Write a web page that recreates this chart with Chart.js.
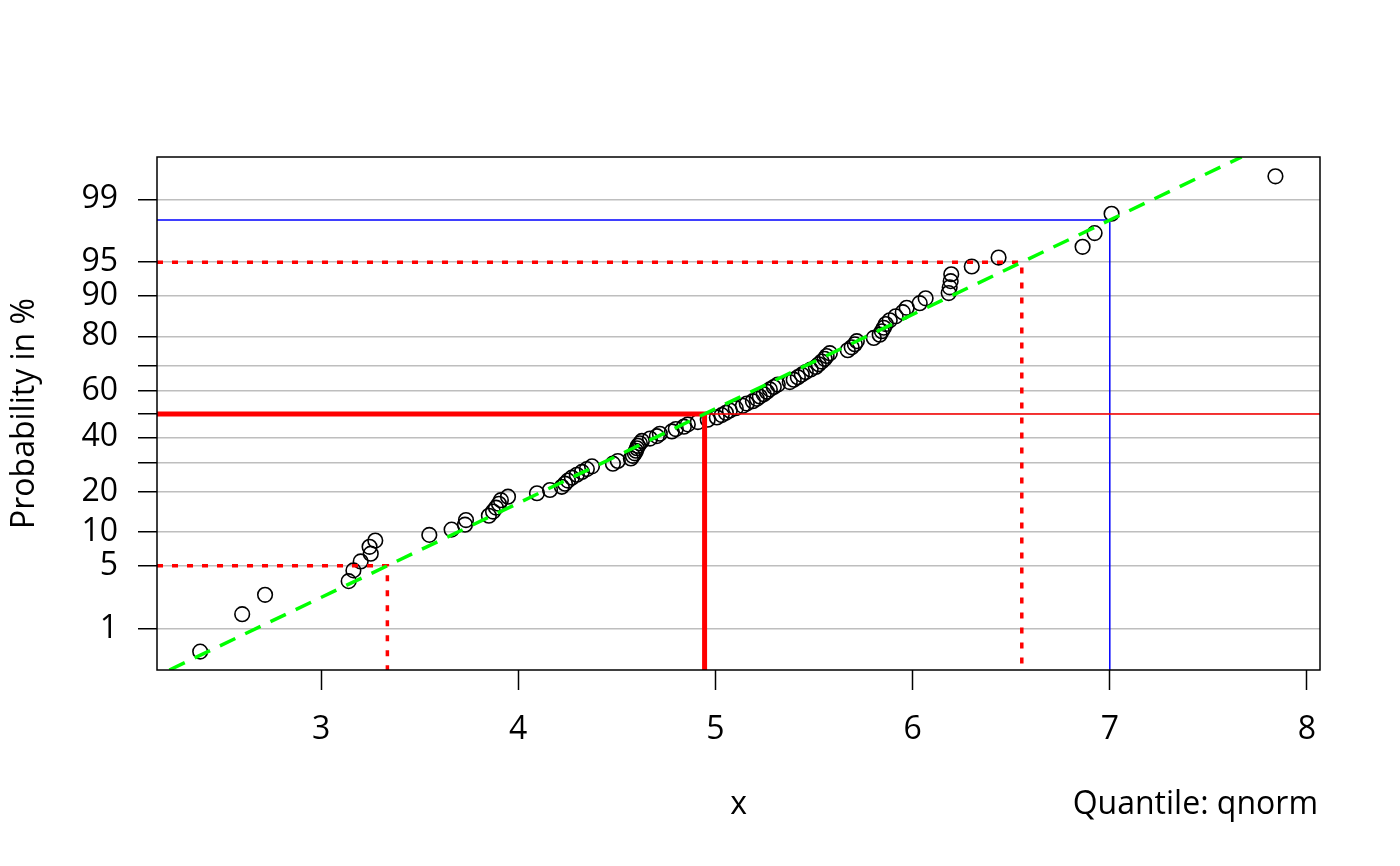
<!DOCTYPE html>
<html>
<head>
<meta charset="utf-8">
<script src="https://cdn.jsdelivr.net/npm/chart.js@4.4.1/dist/chart.umd.min.js"></script>
<style>
  body { margin: 0; background: #fff; }
  #wrap { width: 1400px; height: 866px; }
</style>
</head>
<body>
<div id="wrap"><canvas id="probChart"></canvas></div>
<script>
'use strict'

// sorted sample (100 values)
const sample = [
    2.387, 2.600, 2.716, 3.140, 3.164, 3.201, 3.252, 3.246, 3.275, 3.549,
    3.662, 3.730, 3.735, 3.851, 3.872, 3.887, 3.902, 3.912, 3.948, 4.095,
    4.161, 4.221, 4.237, 4.252, 4.272, 4.297, 4.323, 4.348, 4.374, 4.480,
    4.505, 4.571, 4.581, 4.591, 4.597, 4.602, 4.607, 4.617, 4.627, 4.668,
    4.703, 4.718, 4.779, 4.799, 4.840, 4.860, 4.911, 4.961, 5.007, 5.032,
    5.053, 5.073, 5.103, 5.139, 5.159, 5.190, 5.210, 5.225, 5.245, 5.261,
    5.276, 5.296, 5.316, 5.377, 5.397, 5.418, 5.438, 5.458, 5.483, 5.509,
    5.524, 5.539, 5.554, 5.564, 5.580, 5.671, 5.691, 5.707, 5.717, 5.803,
    5.833, 5.844, 5.854, 5.864, 5.884, 5.914, 5.950, 5.970, 6.036, 6.066,
    6.183, 6.188, 6.193, 6.196, 6.300, 6.436, 6.862, 6.923, 7.009, 7.840
];

const probTicks = [1, 5, 10, 20, 30, 40, 50, 60, 70, 80, 90, 95, 99];
const probLabels = ['1', '5', '10', '20', '', '40', '', '60', '', '80', '90', '95', '99'];
const xTicks = [3, 4, 5, 6, 7, 8];

// fitted normal (mean, sd) and the marked values
const fitMean = 4.945;
const fitSd = 0.978;
const dottedProbs = [5, 95];
const markX = 7;

const xMin = 2.168, xMax = 8.066;
const yMin = -2.775, yMax = 2.785;

// inverse normal cdf (Acklam)
function qnorm(p) {
    const a = [-3.969683028665376e+01, 2.209460984245205e+02, -2.759285104469687e+02, 1.383577518672690e+02, -3.066479806614716e+01, 2.506628277459239e+00];
    const b = [-5.447609879822406e+01, 1.615858368580409e+02, -1.556989798598866e+02, 6.680131188771972e+01, -1.328068155288572e+01];
    const c = [-7.784894002430293e-03, -3.223964580411365e-01, -2.400758277161838e+00, -2.549732539343734e+00, 4.374664141464968e+00, 2.938163982698783e+00];
    const d = [7.784695709041462e-03, 3.224671290700398e-01, 2.445134137142996e+00, 3.754408661907416e+00];
    const pl = 0.02425;
    let q, r;
    if (p < pl) {
        q = Math.sqrt(-2 * Math.log(p));
        return (((((c[0]*q+c[1])*q+c[2])*q+c[3])*q+c[4])*q+c[5]) / ((((d[0]*q+d[1])*q+d[2])*q+d[3])*q+1);
    }
    if (p <= 1 - pl) {
        q = p - 0.5; r = q * q;
        return (((((a[0]*r+a[1])*r+a[2])*r+a[3])*r+a[4])*r+a[5])*q / (((((b[0]*r+b[1])*r+b[2])*r+b[3])*r+b[4])*r+1);
    }
    q = Math.sqrt(-2 * Math.log(1 - p));
    return -(((((c[0]*q+c[1])*q+c[2])*q+c[3])*q+c[4])*q+c[5]) / ((((d[0]*q+d[1])*q+d[2])*q+d[3])*q+1);
}

// plotting positions (i - 0.5) / n on the normal scale
const n = sample.length;
const points = sample.map((v, i) => ({ x: v, y: qnorm((i + 0.5) / n) }));

const fitLine = [
    { x: fitMean + fitSd * yMin, y: yMin },
    { x: fitMean + fitSd * yMax, y: yMax }
];

const medianThick = [
    { x: xMin, y: 0 },
    { x: fitMean, y: 0 },
    { x: fitMean, y: yMin }
];
const medianThin = [
    { x: fitMean, y: 0 },
    { x: xMax, y: 0 }
];

function dottedPath(p) {
    const z = qnorm(p / 100);
    const xv = fitMean + fitSd * z;
    return [{ x: xMin, y: z }, { x: xv, y: z }, { x: xv, y: yMin }];
}

const zMark = (markX - fitMean) / fitSd;
const bluePath = [{ x: xMin, y: zMark }, { x: markX, y: zMark }, { x: markX, y: yMin }];

const FONT = "'Open Sans', 'Noto Sans', sans-serif";

const frame = {
    id: 'frame',
    afterDraw(chart) {
        const ctx = chart.ctx;
        const a = chart.chartArea;
        ctx.save();
        ctx.strokeStyle = '#000';
        ctx.lineWidth = 1.5;
        ctx.strokeRect(a.left, a.top, a.right - a.left, a.bottom - a.top);

        ctx.fillStyle = '#000';
        ctx.font = '32px ' + FONT;
        ctx.textBaseline = 'middle';
        ctx.textAlign = 'center';
        ctx.fillText('x', (a.left + a.right) / 2, 805);
        ctx.textAlign = 'right';
        ctx.fillText('Quantile: qnorm', 1318, 805);

        ctx.translate(25, (a.top + a.bottom) / 2);
        ctx.rotate(-Math.PI / 2);
        ctx.textAlign = 'center';
        ctx.fillText('Probability in %', 0, 0);
        ctx.restore();
    }
};

function lineSet(data, color, width, dash, order) {
    return {
        data: data,
        showLine: true,
        borderColor: color,
        borderWidth: width,
        borderDash: dash,
        pointRadius: 0,
        fill: false,
        order: order
    };
}

const ctx = document.getElementById('probChart').getContext('2d');

new Chart(ctx, {
    type: 'scatter',
    data: {
        datasets: [
            lineSet(fitLine, '#00ff00', 3.5, [17, 11], 1),
            lineSet(medianThick, '#ff0000', 5, [], 2),
            lineSet(medianThin, '#ff0000', 1.5, [], 3),
            lineSet(dottedPath(dottedProbs[0]), '#ff0000', 3.5, [6, 9], 4),
            lineSet(dottedPath(dottedProbs[1]), '#ff0000', 3.5, [6, 9], 5),
            lineSet(bluePath, '#0000ff', 1.5, [], 6),
            {
                data: points,
                showLine: false,
                pointStyle: 'circle',
                pointRadius: 7.3,
                pointBorderWidth: 1.6,
                pointBorderColor: '#000',
                pointBackgroundColor: 'rgba(0,0,0,0)',
                order: 10
            }
        ]
    },
    options: {
        responsive: true,
        maintainAspectRatio: false,
        animation: false,
        layout: {
            padding: { top: 157, right: 80, bottom: 0, left: 0 }
        },
        plugins: {
            legend: { display: false },
            tooltip: { enabled: false }
        },
        scales: {
            x: {
                type: 'linear',
                min: xMin,
                max: xMax,
                afterBuildTicks: (scale) => { scale.ticks = xTicks.map(v => ({ value: v })); },
                afterFit: (scale) => { scale.height = 196; },
                border: { display: false },
                grid: {
                    drawOnChartArea: false,
                    drawTicks: true,
                    tickLength: 20,
                    tickColor: '#000',
                    tickWidth: 1.5
                },
                ticks: {
                    color: '#000',
                    font: { family: FONT, size: 32 },
                    padding: 21,
                    autoSkip: false,
                    maxRotation: 0
                }
            },
            y: {
                type: 'linear',
                min: yMin,
                max: yMax,
                afterBuildTicks: (scale) => { scale.ticks = probTicks.map(p => ({ value: qnorm(p / 100) })); },
                afterFit: (scale) => { scale.width = 157; },
                border: { display: false },
                grid: {
                    color: '#bebebe',
                    lineWidth: 1.5,
                    drawTicks: true,
                    tickLength: 19,
                    tickColor: '#000',
                    tickWidth: 1.5
                },
                ticks: {
                    color: '#000',
                    font: { family: FONT, size: 32 },
                    padding: 20,
                    autoSkip: false,
                    callback: (value, index) => probLabels[index]
                }
            }
        }
    },
    plugins: [frame]
});
</script>
</body>
</html>
